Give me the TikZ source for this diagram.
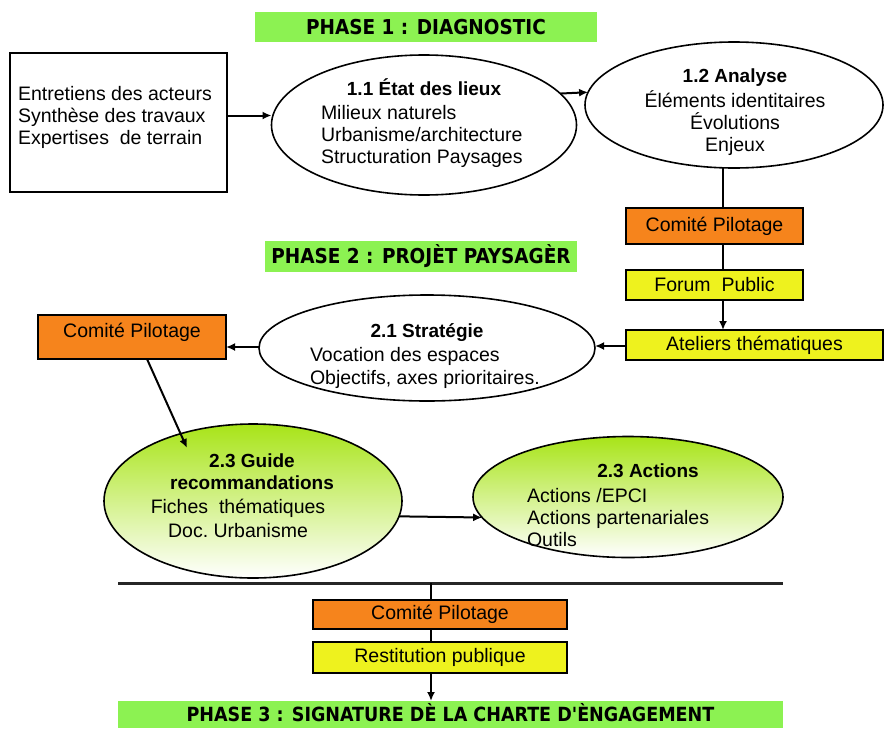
\documentclass[tikz,border=0pt]{standalone}
\usepackage{fontspec}
\setmainfont{Liberation Sans}
\newfontfamily\bannerfont{DejaVu Sans Condensed}
\usetikzlibrary{shapes.geometric,arrows.meta}
\definecolor{bangreen}{RGB}{140,242,82}
\definecolor{boxorange}{RGB}{246,132,28}
\definecolor{boxyellow}{RGB}{238,242,30}
\definecolor{ellgreen}{RGB}{168,228,24}
\begin{document}
\begin{tikzpicture}[x=1pt,y=-1pt,
  every node/.style={inner sep=0pt,outer sep=0pt},
  txt/.style={font=\fontsize{19.5}{23}\selectfont},
  ttl/.style={font=\fontsize{19}{23}\selectfont\bfseries},
  banner/.style={fill=bangreen,font=\bannerfont\bfseries\fontsize{20.5}{22}\selectfont},
  rbox/.style={draw=black,line width=1.8pt,font=\fontsize{19.5}{23}\selectfont},
  ell/.style={ellipse,draw=black,line width=1.6pt},
  gell/.style={ell,top color=ellgreen,bottom color=white},
  link/.style={line width=2pt},
  arr/.style={line width=2pt,-{Latex[length=9pt,width=8pt]}}
]
\useasboundingbox (0,0) rectangle (885,728);

% banners
\node[banner,minimum width=342pt,minimum height=30pt] (ph1) at (426,27) {PHASE 1 : DIAGNOSTIC};
\node[banner,minimum width=312pt,minimum height=31pt] (ph2) at (421,256.5) {PHASE 2 : PROJÈT PAYSAGÈR};
\node[banner,minimum width=665pt,minimum height=27pt] (ph3) at (450.5,714.5) {};
\node[font=\bannerfont\bfseries\fontsize{19.5}{21}\selectfont,anchor=base] (ph3t) at (450.5,721) {PHASE 3 : SIGNATURE DÈ LA CHARTE D'ÈNGAGEMENT};

% phase 1
\node[draw=black,line width=2.2pt,minimum width=217pt,minimum height=139pt] (src) at (118.5,122.5) {};
\node[txt,align=left,anchor=base west] (srctxt) at (18,144) {Entretiens des acteurs\\[-1pt]Synthèse des travaux\\[-1pt]Expertises\ \ de terrain};

\node[ell,minimum width=305pt,minimum height=140pt] (e11) at (424,125) {};
\node[ttl,anchor=base] (e11t) at (424,95) {1.1 État des lieux};
\node[txt,align=left,anchor=base west] (e11b) at (321,163) {Milieux naturels\\[-1pt]Urbanisme/architecture\\[-1pt]Structuration Paysages};

\node[ell,minimum width=298pt,minimum height=126pt] (e12) at (734,105) {};
\node[ttl,anchor=base] (e12t) at (735,82) {1.2 Analyse};
\node[txt,align=center,anchor=base] (e12b) at (735,151) {Éléments identitaires\\[-1pt]Évolutions\\[-1pt]Enjeux};

\node[rbox,fill=boxorange,minimum width=177pt,minimum height=36pt] (cp1) at (714.5,226) {Comité Pilotage};
\node[rbox,fill=boxyellow,minimum width=177pt,minimum height=30pt] (fp) at (714.5,285) {Forum\ \ Public};
\node[rbox,fill=boxyellow,minimum width=257pt,minimum height=30pt] (at) at (754.5,345) {Ateliers thématiques};

% phase 2
\node[ell,minimum width=336pt,minimum height=106pt] (e21) at (427,348) {};
\node[ttl,anchor=base] (e21t) at (427,337) {2.1 Stratégie};
\node[txt,align=left,anchor=base west] (e21b) at (310,384) {Vocation des espaces\\Objectifs, axes prioritaires.};

\node[rbox,fill=boxorange,minimum width=188pt,minimum height=44pt,anchor=north] (cp2) at (132,315) {};
\node[txt,anchor=base] (cp2t) at (132,337) {Comité Pilotage};

\node[gell,minimum width=298pt,minimum height=154pt] (e23g) at (253,501) {};
\node[ttl,align=center,anchor=base] (e23gt) at (252,489) {2.3 Guide\\[-1pt]recommandations};
\node[txt,align=center,anchor=base] (e23gb) at (238,537) {Fiches\ \ thématiques\\[1pt]Doc.\ Urbanisme};

\node[gell,minimum width=310pt,minimum height=121pt] (e23a) at (628,497) {};
\node[ttl,anchor=base] (e23at) at (648,477) {2.3 Actions};
\node[txt,align=left,anchor=base west] (e23ab) at (527,546) {Actions /EPCI\\[-1pt]Actions partenariales\\[-1pt]Outils};

% phase 3
\coordinate (hl1) at (118,583);
\coordinate (hl2) at (783,583);
\node[rbox,fill=boxorange,minimum width=254pt,minimum height=29pt] (cp3) at (440,614.5) {Comité Pilotage};
\node[rbox,fill=boxyellow,minimum width=254pt,minimum height=31pt] (rp) at (440,657.5) {Restitution publique};

% connectors
\draw[arr] ([yshift=7pt]src.east) -- ([yshift=7pt]src.east -| e11.west);
\draw[arr] (e11.13) -- (e12.175);
\draw[link] ([xshift=8.5pt]cp1.north) -- ([xshift=8.5pt]cp1.north |- e12.south);
\draw[link] ([xshift=8.5pt]cp1.south) -- ([xshift=8.5pt]fp.north);
\draw[arr] ([xshift=8.5pt]fp.south) -- ([xshift=8.5pt]fp.south |- at.north);
\draw[arr] ([yshift=-1pt]at.west) -- ([yshift=-1pt]at.west -| e21.east);
\draw[arr] ([yshift=1pt]e21.west) -- ([yshift=1pt]e21.west -| cp2.east);
\coordinate (gtip) at (187,448);
\draw[arr] ([xshift=15pt]cp2.south) -- (gtip);
\draw[arr] (e23g.-6) -- (e23a.188);
\draw[line width=3pt,black!85] (hl1) -- (hl2);
\draw[link] ([xshift=-9pt]cp3.north) -- ([xshift=-9pt]cp3.north |- hl1);
\draw[link] ([xshift=-9pt]cp3.south) -- ([xshift=-9pt]rp.north);
\draw[arr] ([xshift=-9pt]rp.south) -- ([xshift=-9pt]rp.south |- ph3.north);
\end{tikzpicture}
\end{document}
